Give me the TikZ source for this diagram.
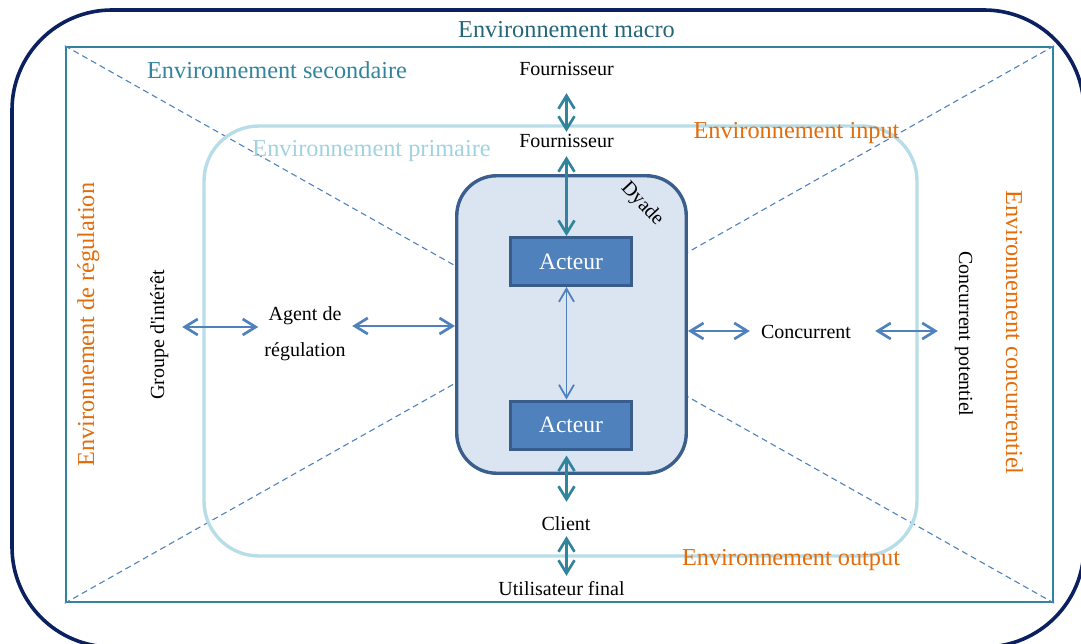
\documentclass[tikz,border=0pt]{standalone}
\usepackage{fontspec}
\setmainfont{Liberation Serif}
\usetikzlibrary{arrows.meta}
\definecolor{navyc}{HTML}{0B2060}
\definecolor{tealc}{HTML}{31849B}
\definecolor{macroc}{HTML}{24667A}
\definecolor{lightc}{HTML}{B7DEE8}
\definecolor{primc}{HTML}{A0D2E0}
\definecolor{orangec}{HTML}{E46C0A}
\definecolor{dyfill}{HTML}{DBE5F1}
\definecolor{dyborder}{HTML}{3B5F8D}
\definecolor{actfill}{HTML}{4F81BD}
\definecolor{actborder}{HTML}{385D8A}
\definecolor{bluec}{HTML}{4F81BD}
\tikzset{
  envtxt/.style={inner sep=0pt, anchor=base, font=\fontsize{24.3pt}{29pt}\selectfont},
  blk/.style={inner sep=0pt, anchor=base, text height=14pt, text depth=5pt, font=\fontsize{20pt}{24pt}\selectfont},
  acteurbox/.style={draw=actborder, fill=actfill, line width=3pt, minimum width=121pt, minimum height=48pt, inner sep=0pt, text=white, font=\fontsize{23.5pt}{28pt}\selectfont},
  vhead/.tip={Straight Barb[length=13pt,width=16pt]},
  tarr/.style={draw=tealc, line width=2.7pt, {vhead}-{vhead}},
  barr/.style={draw=bluec, line width=2.7pt, {vhead}-{vhead}},
  thinarr/.style={draw=bluec, line width=1.8pt, {Straight Barb[length=13pt,width=15pt]}-{Straight Barb[length=13pt,width=15pt]}},
  diag/.style={draw=bluec, line width=1.1pt, dash pattern=on 6pt off 4pt},
}
\begin{document}
\begin{tikzpicture}[x=1pt,y=-1pt]
\useasboundingbox (0,0) rectangle (1081,644);
% outer macro frame
\begin{scope}
\clip (0,0) rectangle (1081,644);
\node[draw=navyc, line width=3.6pt, rounded corners=100pt, minimum width=1072pt, minimum height=637pt, inner sep=0pt] (macro) at (548,328.5) {};
\end{scope}
% secondary rectangle
\node[draw=tealc, line width=2.4pt, minimum width=987pt, minimum height=555pt, inner sep=0pt] (sec) at (559.5,324.5) {};
% diagonals
\draw[diag] (sec.north west) -- (sec.south east);
\draw[diag] (sec.north east) -- (sec.south west);
% primary environment
\node[draw=lightc, line width=3.4pt, rounded corners=55pt, minimum width=713pt, minimum height=430pt, inner sep=0pt] (prim) at (560.5,341) {};
% dyade
\node[draw=dyborder, fill=dyfill, line width=3.4pt, rounded corners=40pt, minimum width=229.5pt, minimum height=297.5pt, inner sep=0pt] (dyade) at (571.5,324.5) {};
\node[acteurbox] (acteurA) at (571,261.5) {Acteur};
\node[acteurbox] (acteurB) at (571,425) {Acteur};
\node[inner sep=0pt, rotate=-47, font=\fontsize{20pt}{24pt}\selectfont] (dyadelbl) at (642,204) {Dyade};
% environment labels
\node[envtxt, text=macroc] (lmacro) at (566.5,38) {Environnement macro};
\node[envtxt, text=tealc] (lsec) at (277,79) {Environnement secondaire};
\node[envtxt, text=primc] (lprim) at (371.5,157) {Environnement primaire};
\node[envtxt, text=orangec] (linput) at (796.5,139) {Environnement input};
\node[envtxt, text=orangec] (loutput) at (791,565) {Environnement output};
\node[envtxt, text=orangec, rotate=90] (lregl) at (94,324.5) {Environnement de régulation};
\node[envtxt, text=orangec, rotate=-90] (lconc) at (1006,332.5) {Environnement concurrentiel};
% actors around
\node[blk] (fournA) at (566.5,76) {Fournisseur};
\node[blk] (fournB) at (566.5,148) {Fournisseur};
\node[blk] (client) at (566,530) {Client};
\node[blk] (util) at (561.5,595) {Utilisateur final};
\node[blk] (concurrent) at (806,338) {Concurrent};
\node[blk, rotate=90] (groupe) at (164,335) {Groupe d\textquotesingle intérêt};
\node[blk, rotate=-90] (potent) at (959,334) {Concurrent potentiel};
\node[inner sep=0pt, align=center, font=\fontsize{20pt}{24pt}\selectfont] (agent) at (305,334) {Agent de\\[12pt]régulation};
% vertical connectors
\draw[tarr, shorten <=12pt, shorten >=2pt] (fournA.south) -- (fournB.north);
\draw[tarr, shorten <=3pt] (fournB.south) -- (acteurA.north -| fournB.south);
\draw[thinarr] (acteurA.south -| fournB.south) -- (acteurB.north -| fournB.south);
\draw[tarr, shorten <=5pt, shorten >=14pt] (acteurB.south -| fournB.south) -- (client.north -| fournB.south);
\draw[tarr, shorten <=1pt, shorten >=5pt] (client.south -| fournB.south) -- (util.north -| fournB.south);
% horizontal connectors
\draw[barr, shorten <=13pt, shorten >=6pt] ([yshift=8pt]groupe.south) -- ([yshift=8pt]groupe.south -| agent.west);
\draw[barr, shorten <=6.5pt] ([yshift=8pt]agent.east) -- ([yshift=8pt]agent.east -| dyade.west);
\draw[barr, shorten >=11pt] ([yshift=2.5pt]concurrent.west -| dyade.east) -- ([yshift=2.5pt]concurrent.west);
\draw[barr, shorten <=24pt, shorten >=16pt] ([yshift=2.5pt]concurrent.east) -- ([yshift=2.5pt]concurrent.east -| potent.south);
\end{tikzpicture}
\end{document}
